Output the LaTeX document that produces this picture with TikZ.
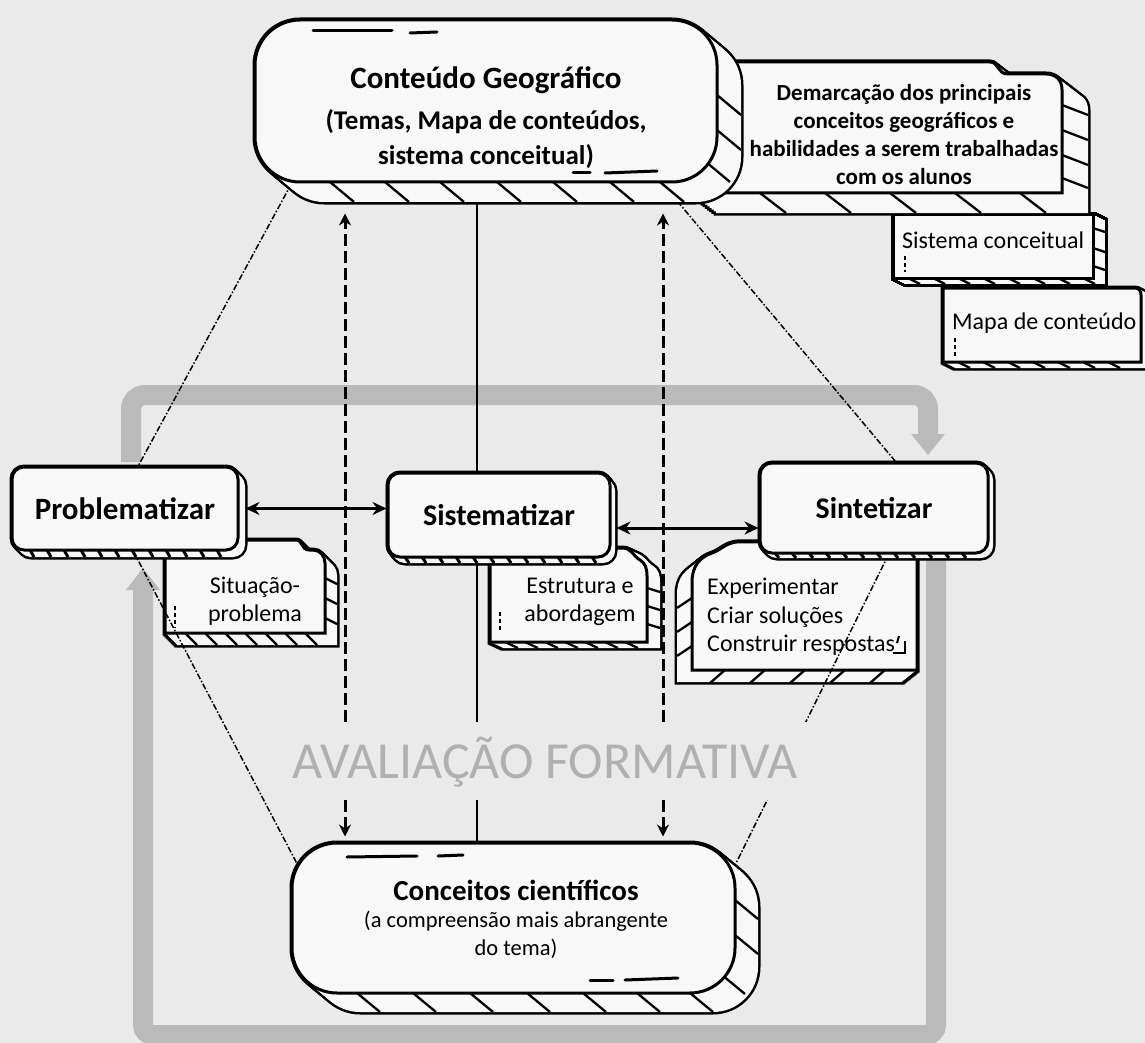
\documentclass[tikz,border=0pt]{standalone}
\usepackage{fontspec}
\setmainfont{Carlito}
\usetikzlibrary{arrows.meta,calc}
\definecolor{bgc}{RGB}{234,234,234}
\definecolor{boxc}{RGB}{248,248,248}
\definecolor{loopc}{RGB}{186,186,186}
\definecolor{avc}{RGB}{176,176,176}
\pgfdeclarelayer{loop}
\pgfdeclarelayer{notes}
\pgfdeclarelayer{links}
\pgfsetlayers{loop,notes,links,main}
% extruded shape: outline path #2 swept by (#3,#4)
\newcommand{\sweep}[4][]{%
  \foreach \i in {0,...,12}{\draw[line width=5pt,#1,shift={({\i*(#3)/12},{\i*(#4)/12})}] #2;}%
  \foreach \i in {0,...,12}{\fill[boxc,#1,shift={({\i*(#3)/12},{\i*(#4)/12})}] #2;}%
}
\begin{document}
\begin{tikzpicture}[x=1pt,y=-1pt,line join=round,
  hatch/.style={line width=2.3pt},
  facebox/.style={draw,line width=3pt,fill=boxc,inner sep=0pt},
  dbl/.style={line width=3pt,{Stealth[length=14pt,width=13pt]}-{Stealth[length=14pt,width=13pt]}},
  dasharr/.style={line width=3pt,dash pattern=on 12pt off 5pt,-{Stealth[length=12pt,width=12pt]}},
  diag/.style={line width=1.5pt,dash pattern=on 6pt off 2pt on 1.5pt off 2pt},
  thinline/.style={line width=1.2pt},
  notetext/.style={font=\fontsize{24}{28.5}\selectfont,inner sep=0pt},
  marks/.style={line width=2pt,dash pattern=on 4pt off 3pt},
  deco/.style={line width=3pt,line cap=round},
  loopband/.style={loopc,line width=20pt}
]
\useasboundingbox (0,0) rectangle (1145,1043);
\coordinate (L) at (345,0);
\coordinate (M) at (477,0);
\coordinate (R) at (663,0);

% ---------- background and formative-assessment loop ----------
\begin{pgfonlayer}{loop}
\fill[bgc] (0,0) rectangle (1145,1043);
\draw[loopband,rounded corners=14pt] (131,462) -- (131,395) -- (928,395) -- (928,436);
\fill[loopc] (911,434) -- (945,434) -- (928,455) -- cycle;
\draw[loopband,rounded corners=10pt] (936,558) -- (936,1035) -- (143,1035) -- (143,588);
\fill[loopc] (126,590) -- (160,590) -- (143,568) -- cycle;
\end{pgfonlayer}

% ---------- note boxes ----------
\begin{pgfonlayer}{notes}
% Mapa de conteudo
\sweep{(943,288) -- (1135,288) .. controls (1139,288) and (1141,291) .. (1141,295) -- (1141,362) -- (943,362) -- cycle}{12}{6}
\foreach \x in {958,983,...,1130} \draw[hatch] (\x,362) -- ++(12,6);
\filldraw[fill=boxc,line width=3pt] (943,288) -- (1135,288) .. controls (1139,288) and (1141,291) .. (1141,295) -- (1141,362) -- (943,362) -- cycle;
\draw[marks] (955,338) -- (955,356);
\node[notetext,anchor=west] (mct) at (952,323) {Mapa de conteúdo};
% Sistema conceitual
\sweep{(893,214) rectangle (1093,278)}{12}{6}
\foreach \x in {908,933,...,1085} \draw[hatch] (\x,278) -- ++(12,6);
\foreach \y in {228,248,266} \draw[hatch] (1093,\y) -- ++(12,4);
\draw[facebox] (893,214) rectangle (1093,278);
\draw[marks] (905,256) -- (905,272);
\node[notetext,anchor=west] (sct) at (902,240) {Sistema conceitual};
% Demarcacao
\sweep{(690,62) -- (990,62) .. controls (999,62) and (997,74) .. (1008,74) -- (1046,74) .. controls (1056,74) and (1062,80) .. (1062,90) -- (1062,193) -- (690,193) -- cycle}{26}{20}
\foreach \x in {760,825,890,955,1020} \draw[hatch] (\x,193) -- ++(26,20);
\foreach \y in {105,130,155,178} \draw[hatch] (1062,\y) -- ++(26,10);
\filldraw[fill=boxc,line width=3pt] (690,62) -- (990,62) .. controls (999,62) and (997,74) .. (1008,74) -- (1046,74) .. controls (1056,74) and (1062,80) .. (1062,90) -- (1062,193) -- (690,193) -- cycle;
\node[align=center,font=\bfseries\fontsize{23}{28}\selectfont,inner sep=0pt] (demt) at (904,135) {Demarcação dos principais\\conceitos geográficos e\\habilidades a serem trabalhadas\\com os alunos};
% Situacao-problema
\sweep{(165,540) -- (296,540) .. controls (303,540) and (301,550) .. (309,550) -- (313,550) .. controls (320,550) and (325,556) .. (325,563) -- (325,633) -- (165,633) -- cycle}{12}{12}
\foreach \y in {578,598,618} \draw[hatch] (325,\y) -- ++(12,6);
\foreach \x in {185,205,...,310} \draw[hatch] (\x,633) -- ++(12,12);
\filldraw[fill=boxc,line width=3pt] (165,540) -- (296,540) .. controls (303,540) and (301,550) .. (309,550) -- (313,550) .. controls (320,550) and (325,556) .. (325,563) -- (325,633) -- (165,633) -- cycle;
\draw[marks] (175,606) -- (175,628);
\node[notetext,align=center] (sitt) at (255,601) {Situação-\\problema};
% Estrutura e abordagem
\sweep{(490,548) -- (622,548) .. controls (632,548) and (633,556) .. (640,560) .. controls (645,563) and (647,568) .. (647,576) -- (647,642) -- (490,642) -- cycle}{13}{6}
\foreach \y in {588,606,624} \draw[hatch] (647,\y) -- ++(13,4);
\foreach \x in {505,525,...,640} \draw[hatch] (\x,642) -- ++(13,6);
\filldraw[fill=boxc,line width=3pt] (490,548) -- (622,548) .. controls (632,548) and (633,556) .. (640,560) .. controls (645,563) and (647,568) .. (647,576) -- (647,642) -- (490,642) -- cycle;
\draw[marks] (500,612) -- (500,632);
\node[notetext,align=center] (estt) at (580,602) {Estrutura e\\abordagem};
% Experimentar
\sweep{(692,670) -- (692,582) .. controls (692,566) and (700,557) .. (712,553) .. controls (721,550) and (724,544) .. (736,542) -- (917,541) -- (917,670) -- cycle}{-15}{12}
\foreach \y in {598,622,646} \draw[hatch] (692,\y) -- ++(-15,10);
\foreach \x in {725,765,...,905} \draw[hatch] (\x,670) -- ++(-15,13);
\filldraw[fill=boxc,line width=3pt] (692,670) -- (692,582) .. controls (692,566) and (700,557) .. (712,553) .. controls (721,550) and (724,544) .. (736,542) -- (917,541) -- (917,670) -- cycle;
\draw[line width=2pt] (899,636) -- (897,643);
\draw[line width=2pt] (905,641) -- (905,653) -- (893,653);
\node[notetext,align=left,anchor=west] (expt) at (707,617) {Experimentar\\Criar soluções\\Construir respostas};
\end{pgfonlayer}

% ---------- main boxes ----------
% Conteudo Geografico
\sweep[rounded corners=45pt]{(255,20) rectangle (717,182)}{24}{20}
\foreach \x in {330,385,440,497,553,610,660} \draw[hatch] (\x,182) -- ++(24,20);
\foreach \y in {95,130} \draw[hatch] (717,\y) -- ++(24,20);
\draw[hatch] (706,162) -- ++(24,20);
\node[facebox,rounded corners=45pt,minimum width=462pt,minimum height=162pt] (geo) at (486,101) {};
\draw[deco] (313,31) -- (392,31);
\draw[deco] (410,33) -- (437,32);
\draw[deco] (573,173) -- (590,173);
\draw[deco] (605,173) -- (657,171);
\node[align=center,font=\bfseries\fontsize{27}{35}\selectfont,inner sep=0pt] (geot) at (486,118) {{\fontsize{31}{35}\selectfont Conteúdo Geográfico}\\[6pt](Temas, Mapa de conteúdos,\\sistema conceitual)};

% Conceitos cientificos
\sweep[rounded corners=45pt]{(292,843) rectangle (735,993)}{23}{19}
\foreach \x in {357,413,470,527,583,637,690} \draw[hatch] (\x,993) -- ++(23,19);
\foreach \y in {900,935} \draw[hatch] (735,\y) -- ++(23,19);
\draw[hatch] (722,975) -- ++(23,19);
\node[facebox,rounded corners=45pt,minimum width=443pt,minimum height=150pt] (conc) at (513.5,918) {};
\draw[deco] (347,857) -- (417,856);
\draw[deco] (438,856) -- (463,855);
\draw[deco] (590,980) -- (613,980);
\draw[deco] (625,980) -- (678,978);
\node[align=center,font=\fontsize{22.5}{27.5}\selectfont,inner sep=0pt] (conct) at (516,919) {{\bfseries\fontsize{29}{30}\selectfont Conceitos científicos}\\(a compreensão mais abrangente\\do tema)};

% Problematizar
\sweep[rounded corners=12pt]{(12,467) rectangle (238,550)}{7}{7}
\foreach \x in {30,47,...,228} \draw[line width=3pt] (\x,550) -- ++(4,7);
\node[facebox,rounded corners=12pt,minimum width=226pt,minimum height=83pt,font=\bfseries\fontsize{31}{34}\selectfont] (prob) at (125,508.5) {Problematizar};
% Sistematizar
\sweep[rounded corners=12pt]{(388,473) rectangle (610,557)}{5}{6}
\foreach \x in {405,422,...,600} \draw[line width=3pt] (\x,557) -- ++(4,6);
\node[facebox,rounded corners=12pt,minimum width=222pt,minimum height=84pt,font=\bfseries\fontsize{30}{34}\selectfont] (sist) at (499,515) {Sistematizar};
% Sintetizar
\sweep[rounded corners=12pt]{(760,463) rectangle (988,553)}{5}{5}
\foreach \x in {775,792,...,978} \draw[line width=3pt] (\x,553) -- ++(4,5);
\node[facebox,rounded corners=12pt,minimum width=228pt,minimum height=90pt,font=\bfseries\fontsize{30}{34}\selectfont] (sint) at (874,508) {Sintetizar};

% AVALIACAO FORMATIVA
\node[fill=bgc,text=avc,font=\fontsize{52}{52}\selectfont,text height=34pt,text depth=0pt,minimum height=78pt,inner xsep=10pt,inner ysep=0pt] (av) at (545,761) {AVALIAÇÃO FORMATIVA};

% ---------- connectors under the boxes ----------
\begin{pgfonlayer}{links}
\draw[thinline] (geo.south -| M) -- (conc.north -| M);
\draw[diag] ($(geo.south west)+(38,0)$) -- ($(prob.north west)+(128,0)$);
\draw[diag] ($(prob.south west)+(123,0)$) -- ($(conc.north west)+(8,25)$);
\draw[diag] ($(geo.south west)+(409,0)$) -- ($(sint.north west)+(137,0)$);
\draw[diag] ($(sint.south west)+(130,0)$) -- ($(conc.north east)+(-8,37)$);
\end{pgfonlayer}

% ---------- arrows ----------
\draw[dbl] ([xshift=6pt]prob.east) -- (prob.east -| sist.west);
\draw[dbl] ([xshift=5pt,yshift=-13pt]sist.east) -- ([yshift=-13pt]sist.east -| sint.west);
\draw[dasharr] (av.north -| L) -- ([yshift=-30pt]geo.south -| L);
\draw[dasharr] (av.south -| L) -- ([yshift=5pt]conc.north -| L);
\draw[dasharr] (av.north -| R) -- ([yshift=-30pt]geo.south -| R);
\draw[dasharr] (av.south -| R) -- ([yshift=5pt]conc.north -| R);
\end{tikzpicture}
\end{document}
